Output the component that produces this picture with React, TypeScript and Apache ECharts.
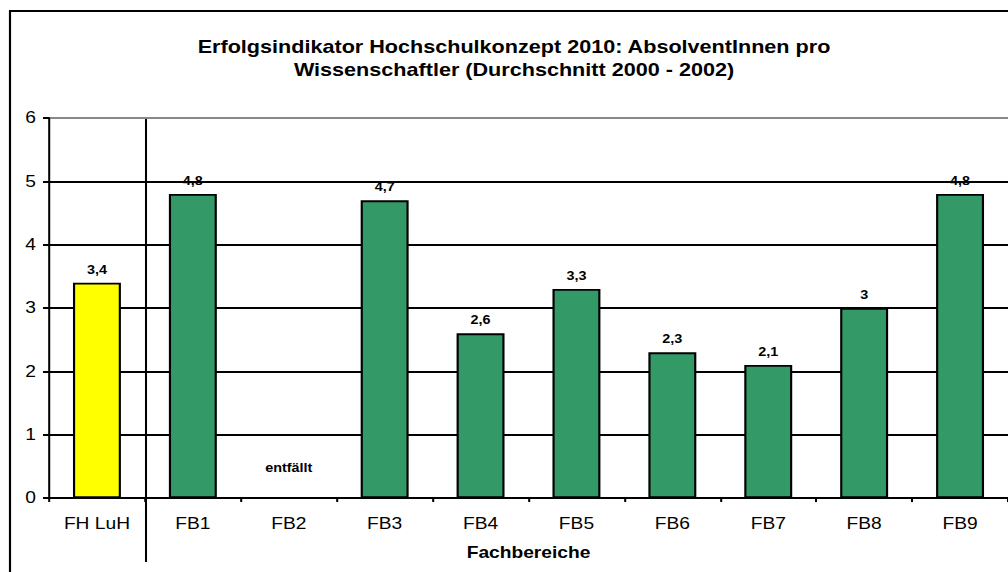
import React, { useEffect, useRef } from "react";
import * as echarts from "echarts";

const categories = ["FH LuH", "FB1", "FB2", "FB3", "FB4", "FB5", "FB6", "FB7", "FB8", "FB9"];
const values: (number | null)[] = [3.4, 4.8, null, 4.7, 2.6, 3.3, 2.3, 2.1, 3, 4.8];
const barColors = ["#FFFF00", "#339966", "#339966", "#339966", "#339966", "#339966", "#339966", "#339966", "#339966", "#339966"];
const missingLabel = "entfällt";
const titleText = "Erfolgsindikator Hochschulkonzept 2010: AbsolventInnen pro\nWissenschaftler (Durchschnitt 2000 - 2002)";
const xName = "Fachbereiche";

const FONT = "'Liberation Sans', Arial, sans-serif";
// The reference is horizontally stretched; draw at a narrower width and stretch.
const SX = 1.2;
const W = 1008 / SX;
const px = (x: number) => x / SX;

export default function App() {
  const ref = useRef<HTMLDivElement>(null);
  useEffect(() => {
    if (!ref.current) return;
    const chart = echarts.init(ref.current, null, { renderer: "svg" });
    const data = values.map((v, i) => {
      if (v === null) {
        return {
          value: 0,
          itemStyle: { color: "transparent", borderWidth: 0 },
          label: { formatter: missingLabel, distance: 24 },
        };
      }
      return { value: v, itemStyle: { color: barColors[i] } };
    });
    chart.setOption({
      animation: false,
      textStyle: { fontFamily: FONT },
      title: {
        text: titleText,
        left: px(508),
        top: 30,
        textAlign: "center",
        textStyle: { fontFamily: FONT, fontSize: 18, fontWeight: "bold", color: "#000", lineHeight: 23 },
      },
      grid: { left: px(49), top: 118, width: px(960), height: 380, containLabel: false },
      xAxis: {
        type: "category",
        data: categories,
        name: xName,
        nameLocation: "middle",
        nameGap: 47,
        nameTextStyle: { fontFamily: FONT, fontSize: 16, fontWeight: "bold", color: "#000" },
        axisLine: { lineStyle: { color: "#000", width: 2 } },
        axisTick: { show: true, length: 4, lineStyle: { color: "#000", width: 1.7 } },
        axisLabel: { fontFamily: FONT, fontSize: 16, color: "#000", margin: 18 },
      },
      yAxis: {
        type: "value",
        min: 0,
        max: 6,
        interval: 1,
        axisLine: { show: true, lineStyle: { color: "#000", width: 1.7 } },
        axisTick: { show: true, length: px(6), lineStyle: { color: "#000", width: 2 } },
        axisLabel: { fontFamily: FONT, fontSize: 16, color: "#000", margin: px(13) },
        splitLine: {
          show: true,
          lineStyle: { color: ["#000", "#000", "#000", "#000", "#000", "#000", "#888"], width: 2 },
        },
      },
      series: [
        {
          type: "bar",
          data,
          barWidth: "50%",
          itemStyle: { borderColor: "#000", borderWidth: 1.8 },
          label: {
            show: true,
            position: "top",
            distance: 7,
            fontFamily: FONT,
            fontSize: 12,
            fontWeight: "bold",
            color: "#000",
            formatter: (p: any) => String(p.value).replace(".", ","),
          },
        },
      ],
      graphic: [
        {
          type: "rect",
          shape: { x: px(10), y: 11, width: 1100, height: 700 },
          style: { fill: "none", stroke: "#000", lineWidth: 1.8 },
          silent: true,
        },
        {
          type: "line",
          shape: { x1: px(146), y1: 118, x2: px(146), y2: 562 },
          style: { stroke: "#000", lineWidth: 1.7 },
          silent: true,
        },
      ],
    });
    return () => chart.dispose();
  }, []);
  return (
    <div style={{ position: "fixed", left: 0, top: 0, width: 1008, height: 572, overflow: "hidden", background: "#fff" }}>
      <div
        ref={ref}
        style={{ width: W, height: 572, transform: `scaleX(${SX})`, transformOrigin: "0 0" }}
      />
    </div>
  );
}
